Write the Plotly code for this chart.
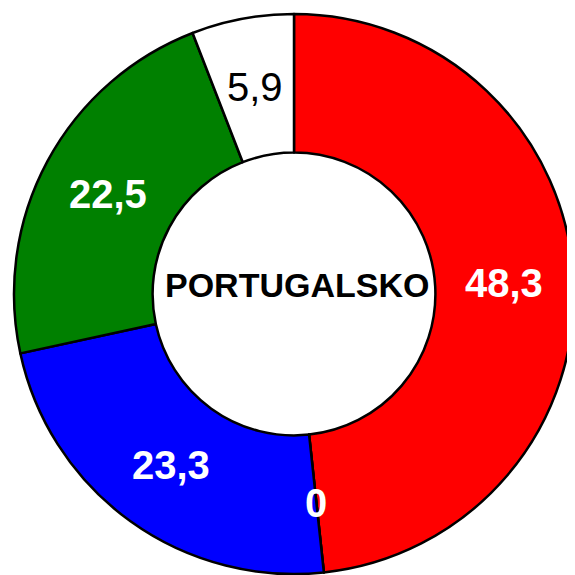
import math
import plotly.graph_objects as go

labels = ["A", "B", "C", "D", "E"]
values = [48.3, 0, 23.3, 22.5, 5.9]
colors = ["#ff0000", "#ffff00", "#0000ff", "#008000", "#ffffff"]
text_colors = ["white", "white", "white", "white", "black"]
text_weights = ["bold", "bold", "bold", "bold", "normal"]
center_title = "PORTUGALSKO"
hole = 0.505

fig = go.Figure(go.Pie(
    labels=labels,
    values=values,
    sort=False,
    direction="clockwise",
    rotation=0,
    hole=hole,
    marker=dict(colors=colors, line=dict(color="black", width=2.5)),
    textinfo="none",
    showlegend=False,
    hoverinfo="label+value",
))

# value labels at the middle of each ring slice (incl. the zero-valued one,
# which plotly itself would not label)
total = sum(values)
cum = 0.0
r_mid = 0.5 * (1 + hole) / 2
for v, c, w in zip(values, text_colors, text_weights):
    ang = 2 * math.pi * (cum + v / 2) / total
    fig.add_annotation(
        x=0.5 + r_mid * math.sin(ang), y=0.5 + r_mid * math.cos(ang),
        xref="paper", yref="paper", showarrow=False,
        xanchor="center", yanchor="middle",
        text=f"{v:g}".replace(".", ","),
        font=dict(family="Liberation Sans", size=40, color=c, weight=w),
    )
    cum += v

fig.add_annotation(
    x=0.5, y=0.5, xref="paper", yref="paper", showarrow=False,
    xanchor="center", yanchor="middle", yshift=9, xshift=3,
    text=center_title,
    font=dict(family="Liberation Sans", size=34, color="black", weight="bold"),
)

fig.update_layout(
    width=575, height=575,
    margin=dict(l=6, r=9, t=6, b=9),
    separators=", ",
    paper_bgcolor="white",
)
fig.write_html("out.html")
